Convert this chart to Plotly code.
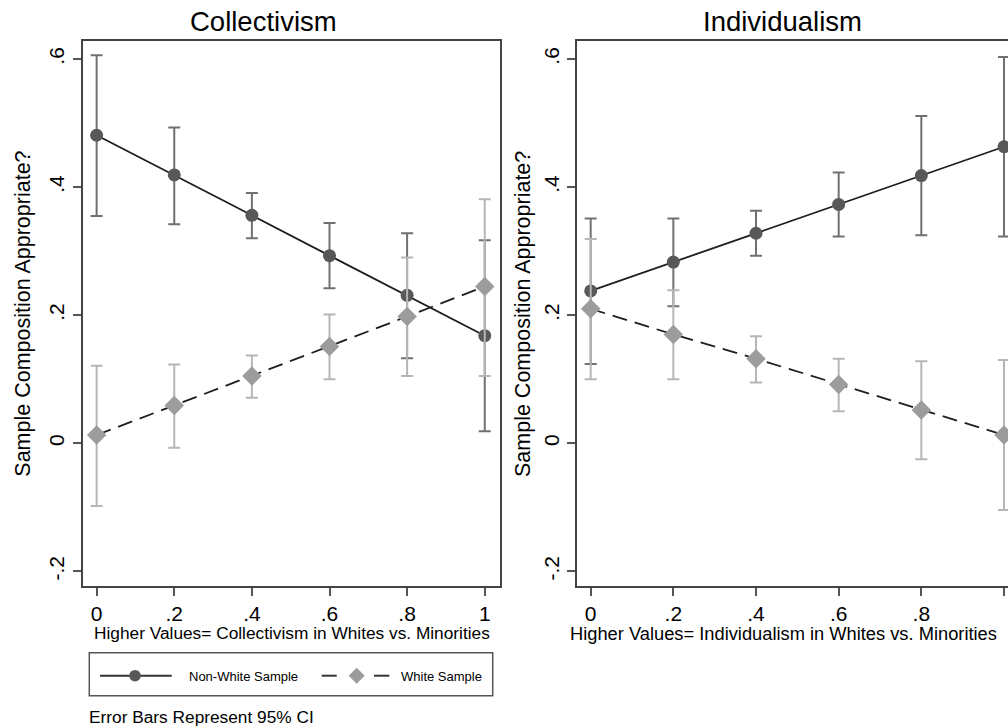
import plotly.graph_objects as go

# ---------------- data ----------------
x_vals = [0, 0.2, 0.4, 0.6, 0.8, 1.0]
x_ticktext = ["0", ".2", ".4", ".6", ".8", "1"]
y_tickvals = [-0.2, 0, 0.2, 0.4, 0.6]
y_ticktext = ["-.2", "0", ".2", ".4", ".6"]

# Collectivism panel
col_nonwhite = [0.481, 0.419, 0.356, 0.293, 0.231, 0.168]
col_nonwhite_lo = [0.355, 0.342, 0.320, 0.242, 0.133, 0.019]
col_nonwhite_hi = [0.606, 0.493, 0.391, 0.344, 0.328, 0.317]
col_white = [0.013, 0.059, 0.105, 0.151, 0.198, 0.245]
col_white_lo = [-0.098, -0.007, 0.071, 0.100, 0.105, 0.105]
col_white_hi = [0.121, 0.123, 0.137, 0.201, 0.290, 0.381]

# Individualism panel
ind_nonwhite = [0.238, 0.283, 0.328, 0.373, 0.418, 0.463]
ind_nonwhite_lo = [0.124, 0.214, 0.293, 0.323, 0.325, 0.323]
ind_nonwhite_hi = [0.351, 0.351, 0.363, 0.423, 0.511, 0.603]
ind_white = [0.210, 0.170, 0.132, 0.092, 0.052, 0.013]
ind_white_lo = [0.100, 0.100, 0.095, 0.050, -0.025, -0.104]
ind_white_hi = [0.319, 0.239, 0.167, 0.132, 0.128, 0.130]

panel_titles = ["Collectivism", "Individualism"]
x_titles = ["Higher Values= Collectivism in Whites vs. Minorities",
            "Higher Values= Individualism in Whites vs. Minorities"]
y_title = "Sample Composition Appropriate?"
series_names = ["Non-White Sample", "White Sample"]
note_text = "Error Bars Represent 95% CI"

# ---------------- styling ----------------
W, H = 1008, 728
FONT = "Liberation Sans, Arial, Helvetica, sans-serif"
NW_MARK = "#585858"
NW_ERR = "#707070"
WH_MARK = "#9c9c9c"
WH_ERR = "#b6b6b6"
LINE_C = "#1e1e1e"
AXIS_C = "#444444"


def px(xp):
    return xp / W


def py(yp):
    return 1 - yp / H


def errs(est, lo, hi):
    plus = [h - e for e, h in zip(est, hi)]
    minus = [e - l for e, l in zip(est, lo)]
    return plus, minus


fig = go.Figure()

panels = [
    ("x", "y", col_nonwhite, col_nonwhite_lo, col_nonwhite_hi, col_white, col_white_lo, col_white_hi),
    ("x2", "y2", ind_nonwhite, ind_nonwhite_lo, ind_nonwhite_hi, ind_white, ind_white_lo, ind_white_hi),
]

for xa, ya, nw, nwl, nwh, wh, whl, whh in panels:
    p, m = errs(nw, nwl, nwh)
    fig.add_trace(go.Scatter(
        x=x_vals, y=nw, xaxis=xa, yaxis=ya, mode="lines+markers",
        name=series_names[0], showlegend=False,
        line=dict(color=LINE_C, width=1.8),
        marker=dict(symbol="circle", size=13, color=NW_MARK),
        error_y=dict(type="data", array=p, arrayminus=m, symmetric=False,
                     color=NW_ERR, thickness=2, width=6),
        cliponaxis=False,
    ))
    p, m = errs(wh, whl, whh)
    fig.add_trace(go.Scatter(
        x=x_vals, y=wh, xaxis=xa, yaxis=ya, mode="lines+markers",
        name=series_names[1], showlegend=False,
        line=dict(color=LINE_C, width=1.8, dash="15px,8px"),
        marker=dict(symbol="diamond", size=15, color=WH_MARK),
        error_y=dict(type="data", array=p, arrayminus=m, symmetric=False,
                     color=WH_ERR, thickness=2, width=6),
        cliponaxis=False,
    ))

axis_common = dict(showgrid=False, zeroline=False, showline=True,
                   linecolor=AXIS_C, linewidth=2, ticks="outside",
                   ticklen=8, tickwidth=1.5, tickcolor="#555555",
                   tickfont=dict(size=21, color="black", family=FONT))

y_dom = [py(585.7), py(40.7)]
y_rng = [-0.2223, 0.6286]

fig.update_layout(
    width=W, height=H, margin=dict(l=0, r=0, t=0, b=0),
    plot_bgcolor="white", paper_bgcolor="white", showlegend=False,
    font=dict(family=FONT, color="black"),
    xaxis=dict(domain=[px(82.7), px(500)], range=[-0.0359, 1.0393],
               tickvals=x_vals, ticktext=x_ticktext, mirror=True,
               anchor="y", **axis_common),
    yaxis=dict(domain=y_dom, range=y_rng, tickvals=y_tickvals,
               ticktext=y_ticktext, tickangle=-90, mirror=True,
               anchor="x", **axis_common),
    xaxis2=dict(domain=[px(577.3), 1.0], range=[-0.0324, 1.0097],
                tickvals=x_vals, ticktext=x_ticktext, mirror=True,
                anchor="y2", **axis_common),
    yaxis2=dict(domain=y_dom, range=y_rng, tickvals=y_tickvals,
                ticktext=y_ticktext, tickangle=-90, mirror=False,
                anchor="x2", **axis_common),
)

ann = []
# panel titles
for t, cx in zip(panel_titles, [263, 782]):
    ann.append(dict(text=t, x=px(cx), y=py(21.7), xref="paper", yref="paper",
                    xanchor="center", yanchor="middle", showarrow=False,
                    font=dict(size=27.5, family=FONT, color="black")))
# y titles
for cx in [22.7, 523]:
    ann.append(dict(text=y_title, x=px(cx), y=py(314), xref="paper", yref="paper",
                    xanchor="center", yanchor="middle", showarrow=False, textangle=-90,
                    font=dict(size=21.5, family=FONT, color="black")))
# x titles
for t, cx, fs in zip(x_titles, [291.5, 783.5], [17.3, 18.3]):
    ann.append(dict(text=t, x=px(cx), y=py(633), xref="paper", yref="paper",
                    xanchor="center", yanchor="middle", showarrow=False,
                    font=dict(size=fs, family=FONT, color="black")))
# legend texts
ann.append(dict(text=series_names[0], x=px(187), y=py(676), xref="paper", yref="paper",
                xanchor="left", yanchor="middle", showarrow=False,
                font=dict(size=13, family=FONT, color="black")))
ann.append(dict(text=series_names[1], x=px(399.3), y=py(676), xref="paper", yref="paper",
                xanchor="left", yanchor="middle", showarrow=False,
                font=dict(size=13, family=FONT, color="black")))
# note
ann.append(dict(text=note_text, x=px(87), y=py(716.7), xref="paper", yref="paper",
                xanchor="left", yanchor="middle", showarrow=False,
                font=dict(size=17.3, family=FONT, color="black")))
fig.update_layout(annotations=ann)

# legend box and symbols
shapes = []
shapes.append(dict(type="rect", xref="paper", yref="paper",
                   x0=px(89.3), x1=px(492.7), y0=py(695.7), y1=py(652.7),
                   line=dict(color="#555555", width=1.5), fillcolor="rgba(0,0,0,0)"))
ly = py(675.7)
shapes.append(dict(type="line", xref="paper", yref="paper", x0=px(100), x1=px(171.7),
                   y0=ly, y1=ly, line=dict(color="#333333", width=2)))
r = 5.8
shapes.append(dict(type="circle", xref="paper", yref="paper",
                   x0=px(135 - r), x1=px(135 + r), y0=py(675.7 + r), y1=py(675.7 - r),
                   line=dict(color=NW_MARK, width=0), fillcolor=NW_MARK))
for a, b in [(321.7, 336.7), (374, 389.3)]:
    shapes.append(dict(type="line", xref="paper", yref="paper", x0=px(a), x1=px(b),
                       y0=ly, y1=ly, line=dict(color="#333333", width=2)))
dcx, dcy, d = 356.7, 675.7, 8
shapes.append(dict(type="path", xref="paper", yref="paper",
                   path=f"M {px(dcx - d)} {py(dcy)} L {px(dcx)} {py(dcy - d)} L {px(dcx + d)} {py(dcy)} L {px(dcx)} {py(dcy + d)} Z",
                   line=dict(color=WH_MARK, width=0), fillcolor=WH_MARK))
fig.update_layout(shapes=shapes)

fig.write_html("out.html")
